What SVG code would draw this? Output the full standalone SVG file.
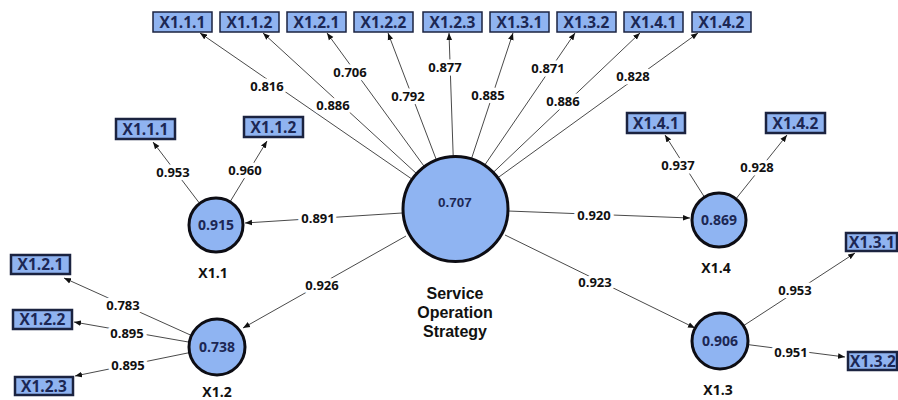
<svg xmlns="http://www.w3.org/2000/svg" width="898" height="400" viewBox="0 0 898 400">
  <style>
    .edge { stroke: #4a4a4a; stroke-width: 1; fill: none; marker-end: url(#ah); }
    .w { font-family: "Open Sans", "Liberation Sans", sans-serif; font-size: 13px; font-weight: 700; fill: #111; text-anchor: middle; stroke: #fff; stroke-width: 7; stroke-linejoin: round; paint-order: stroke; }
    .ind rect { fill: #8fb3f0; stroke: #1b2340; stroke-width: 2.5; }
    .top rect { stroke-width: 1.5; }
    .ind text { font-family: "Open Sans", "Liberation Sans", sans-serif; font-size: 15.5px; font-weight: 700; fill: #1c2754; text-anchor: middle; }
    .lv circle { fill: #8fb4f2; stroke: #0d0d14; stroke-width: 3; }
    .lv .r2 { font-family: "Open Sans", "Liberation Sans", sans-serif; font-size: 14px; font-weight: 700; fill: #1c2754; text-anchor: middle; }
    .lv .name { font-family: "Open Sans", "Liberation Sans", sans-serif; font-size: 14px; font-weight: 700; fill: #111; text-anchor: middle; }
    .main .r2 { font-family: "Liberation Sans", Arial, sans-serif; font-size: 13.5px; }
    .main .name { font-family: "Liberation Sans", Arial, sans-serif; font-size: 16px; }
  </style>
  <defs>
    <marker id="ah" viewBox="0 0 10 10" refX="10" refY="5" markerWidth="7" markerHeight="7" orient="auto" markerUnits="userSpaceOnUse">
      <path d="M0,1 L10,5 L0,9 z" fill="#111"/>
    </marker>
  </defs>
  <rect width="898" height="400" fill="#fff"/>

  <g id="connectors">
    <!-- Service Operation Strategy to its indicators -->
    <line class="edge" x1="411.5" y1="178.8" x2="200" y2="33"/>
    <line class="edge" x1="416" y1="173.1" x2="263" y2="33"/>
    <line class="edge" x1="423.9" y1="166" x2="327" y2="33"/>
    <line class="edge" x1="436.2" y1="159.4" x2="388" y2="33"/>
    <line class="edge" x1="453.2" y1="156" x2="449" y2="33"/>
    <line class="edge" x1="471.5" y1="158.6" x2="513" y2="33"/>
    <line class="edge" x1="484.7" y1="165.1" x2="575" y2="33"/>
    <line class="edge" x1="493.3" y1="172.4" x2="640" y2="33"/>
    <line class="edge" x1="497.8" y1="177.8" x2="698" y2="33"/>
    <!-- Service Operation Strategy to dimensions -->
    <line class="edge" x1="402" y1="213" x2="245" y2="223"/>
    <line class="edge" x1="406" y1="236" x2="243" y2="328"/>
    <line class="edge" x1="508" y1="211" x2="690" y2="218"/>
    <line class="edge" x1="505" y1="235" x2="695" y2="328"/>
    <!-- X1.1 -->
    <line class="edge" x1="199.7" y1="203.5" x2="153" y2="142"/>
    <line class="edge" x1="230" y1="201.9" x2="267" y2="141"/>
    <!-- X1.2 -->
    <line class="edge" x1="191.5" y1="335.5" x2="64" y2="278"/>
    <line class="edge" x1="189.4" y1="342.2" x2="74" y2="322"/>
    <line class="edge" x1="189.6" y1="352.6" x2="75" y2="376"/>
    <!-- X1.4 -->
    <line class="edge" x1="704.5" y1="197.2" x2="665" y2="135"/>
    <line class="edge" x1="735.9" y1="198.9" x2="787" y2="135"/>
    <!-- X1.3 -->
    <line class="edge" x1="743.5" y1="325.7" x2="855" y2="253"/>
    <line class="edge" x1="747.8" y1="344.6" x2="845" y2="357"/>

    <!-- loadings / path coefficients -->
    <text class="w" x="267" y="90.5">0.816</text>
    <text class="w" x="333" y="109.5">0.886</text>
    <text class="w" x="350" y="76.5">0.706</text>
    <text class="w" x="408" y="100.5">0.792</text>
    <text class="w" x="445" y="71.5">0.877</text>
    <text class="w" x="488" y="99.5">0.885</text>
    <text class="w" x="548" y="72.5">0.871</text>
    <text class="w" x="563" y="105.5">0.886</text>
    <text class="w" x="633" y="80.5">0.828</text>
    <text class="w" x="318" y="222.5">0.891</text>
    <text class="w" x="322" y="289.5">0.926</text>
    <text class="w" x="594" y="219.5">0.920</text>
    <text class="w" x="595" y="286.5">0.923</text>
    <text class="w" x="173" y="176.5">0.953</text>
    <text class="w" x="245" y="174.5">0.960</text>
    <text class="w" x="123" y="309.5">0.783</text>
    <text class="w" x="127" y="337.5">0.895</text>
    <text class="w" x="128" y="369.5">0.895</text>
    <text class="w" x="678" y="169.5">0.937</text>
    <text class="w" x="757" y="171.5">0.928</text>
    <text class="w" x="795" y="294.5">0.953</text>
    <text class="w" x="791" y="356.5">0.951</text>
  </g>

  <!-- latent variables -->
  <g id="sos" class="lv main">
    <circle cx="455.5" cy="209" r="52.5"/>
    <text class="r2" x="455" y="207">0.707</text>
    <text class="name" x="455" y="299">Service</text>
    <text class="name" x="455" y="318">Operation</text>
    <text class="name" x="455" y="337">Strategy</text>
  </g>
  <g id="x1_1" class="lv">
    <circle cx="216" cy="225" r="27"/>
    <text class="r2" x="216" y="230">0.915</text>
    <text class="name" x="213" y="278">X1.1</text>
  </g>
  <g id="x1_2" class="lv">
    <circle cx="217" cy="347" r="28"/>
    <text class="r2" x="217" y="352">0.738</text>
    <text class="name" x="217" y="397">X1.2</text>
  </g>
  <g id="x1_4" class="lv">
    <circle cx="719" cy="220" r="27"/>
    <text class="r2" x="719" y="225">0.869</text>
    <text class="name" x="716" y="273">X1.4</text>
  </g>
  <g id="x1_3" class="lv">
    <circle cx="720" cy="341" r="28"/>
    <text class="r2" x="720" y="346">0.906</text>
    <text class="name" x="718" y="395">X1.3</text>
  </g>

  <!-- indicators of Service Operation Strategy -->
  <g id="t_x1_1_1" class="ind top"><rect x="153" y="12" width="59" height="20"/><text x="182.5" y="28">X1.1.1</text></g>
  <g id="t_x1_1_2" class="ind top"><rect x="220" y="12" width="59" height="20"/><text x="249.5" y="28">X1.1.2</text></g>
  <g id="t_x1_2_1" class="ind top"><rect x="287" y="12" width="59" height="20"/><text x="316.5" y="28">X1.2.1</text></g>
  <g id="t_x1_2_2" class="ind top"><rect x="354" y="12" width="59" height="20"/><text x="383.5" y="28">X1.2.2</text></g>
  <g id="t_x1_2_3" class="ind top"><rect x="423" y="12" width="59" height="20"/><text x="452.5" y="28">X1.2.3</text></g>
  <g id="t_x1_3_1" class="ind top"><rect x="490" y="12" width="59" height="20"/><text x="519.5" y="28">X1.3.1</text></g>
  <g id="t_x1_3_2" class="ind top"><rect x="557" y="12" width="59" height="20"/><text x="586.5" y="28">X1.3.2</text></g>
  <g id="t_x1_4_1" class="ind top"><rect x="624" y="12" width="59" height="20"/><text x="653.5" y="28">X1.4.1</text></g>
  <g id="t_x1_4_2" class="ind top"><rect x="692" y="12" width="59" height="20"/><text x="721.5" y="28">X1.4.2</text></g>

  <!-- indicators of the dimensions -->
  <g id="x1_1_1" class="ind"><rect x="116" y="119" width="59" height="20"/><text x="145.5" y="135">X1.1.1</text></g>
  <g id="x1_1_2" class="ind"><rect x="244" y="117" width="59" height="20"/><text x="273.5" y="133">X1.1.2</text></g>
  <g id="x1_2_1" class="ind"><rect x="11" y="255" width="59" height="19"/><text x="40.5" y="270">X1.2.1</text></g>
  <g id="x1_2_2" class="ind"><rect x="13" y="310" width="59" height="19"/><text x="42.5" y="325">X1.2.2</text></g>
  <g id="x1_2_3" class="ind"><rect x="15" y="377" width="58" height="18"/><text x="44" y="392">X1.2.3</text></g>
  <g id="x1_4_1" class="ind"><rect x="627" y="113" width="58" height="20"/><text x="656" y="129">X1.4.1</text></g>
  <g id="x1_4_2" class="ind"><rect x="766" y="113" width="59" height="20"/><text x="795.5" y="129">X1.4.2</text></g>
  <g id="x1_3_1" class="ind"><rect x="846" y="233" width="51" height="18"/><text x="872" y="248">X1.3.1</text></g>
  <g id="x1_3_2" class="ind"><rect x="848" y="352" width="49" height="18"/><text x="873" y="367">X1.3.2</text></g>
</svg>
